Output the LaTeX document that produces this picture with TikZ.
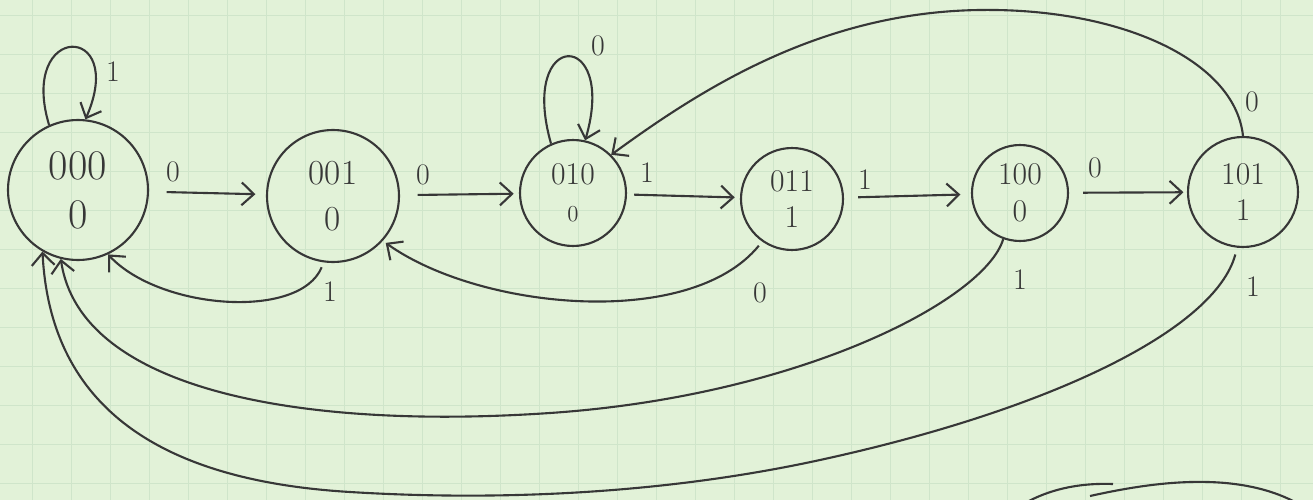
\documentclass[tikz,border=0pt]{standalone}
\usepackage{xcolor}
\usepackage{tikz}
\usetikzlibrary{arrows.meta}
\definecolor{paper}{RGB}{226,242,216}
\definecolor{gridc}{RGB}{207,229,202}
\definecolor{pen}{RGB}{55,55,55}

\begin{document}
\begin{tikzpicture}[x=0.02cm,y=-0.02cm,
  state/.style={circle,draw=pen,line width=1.2pt,align=center,inner sep=0pt,
    text=pen,font=\fontsize{18}{21}\selectfont},
  arr/.style={draw=pen,line width=1.2pt,-{Straight Barb[length=7pt,width=13pt]}},
  lbl/.style={text=pen,font=\fontsize{17}{19}\selectfont,inner sep=1pt}]
  \useasboundingbox (0,0) rectangle (1313,500);
  \fill[paper] (0,0) rectangle (1313,500);
  \foreach \gx in {-7,32,...,1313} \draw[gridc,line width=0.5pt] (\gx,0) -- (\gx,500);
  \foreach \gy in {15,54,...,500} \draw[gridc,line width=0.5pt] (0,\gy) -- (1313,\gy);
  % states
  \node[state,minimum size=2.8cm,font=\fontsize{24}{28}\selectfont] (s000) at (78,190) {000\\0};
  \node[state,minimum size=2.64cm,font=\fontsize{20}{26}\selectfont] (s001) at (333,196) {001\\0};
  \node[state,minimum size=2.12cm] (s010) at (573,193) {010\\{\fontsize{13}{15}\selectfont 0}};
  \node[state,minimum size=2.04cm] (s011) at (792,199) {011\\1};
  \node[state,minimum size=1.92cm] (s100) at (1020,193) {100\\0};
  \node[state,minimum size=2.2cm] (s101) at (1243,192) {101\\1};
  % forward edges
  \draw[arr,shorten <=10pt,shorten >=6pt] (s000) -- (s001);
  \draw[arr,shorten <=10pt,shorten >=3pt] (s001) -- (s010);
  \draw[arr,shorten <=4pt,shorten >=3pt] (s010) -- (s011);
  \draw[arr,shorten <=8pt,shorten >=6pt] (s011) -- (s100);
  \draw[arr,shorten <=8pt,shorten >=2pt] (s100) -- (s101);
  \node[lbl] (l01) at (173,172) {0};
  \node[lbl] (l12) at (423,175) {0};
  \node[lbl] (l23) at (647,173) {1};
  \node[lbl] (l34) at (865,180) {1};
  \node[lbl] (l45) at (1095,168) {0};
  % self loops
  \draw[arr] (s000.114) .. controls (18,22) and (128,22) .. (s000.84);
  \node[lbl] (l00) at (113,72) {1};
  \draw[arr] (s010.114) .. controls (518,28) and (618,28) .. (s010.77);
  \node[lbl] (l22) at (598,46) {0};
  % back edges
  \draw[arr] (s101.north) .. controls (1235,60) and (1120,8) .. (980,10)
    .. controls (820,12) and (700,90) .. (s010.45);
  \node[lbl] (l52) at (1252,102) {0};
  \draw[arr,shorten <=3pt] (s001.262) .. controls (300,320) and (160,310) .. (s000.295);
  \node[lbl] (l10) at (330,292) {1};
  \draw[arr,shorten <=3pt,shorten >=2pt] (s011.235) .. controls (690,330) and (480,310) .. (s001.318);
  \node[lbl] (l31) at (760,293) {0};
  \draw[arr] (s100.250) .. controls (985,300) and (800,396) .. (550,413)
    .. controls (300,430) and (80,390) .. (s000.256);
  \node[lbl] (l40) at (1020,280) {1};
  \draw[arr,shorten <=4pt] (s101.264) .. controls (1215,330) and (1050,410) .. (820,460)
    .. controls (650,497) and (480,500) .. (350,492)
    .. controls (150,480) and (50,400) .. (s000.240);
  \node[lbl] (l50) at (1253,287) {1};
  % stray stroke at the bottom edge
  \draw[pen,line width=1.2pt] (1027,502) .. controls (1055,487) and (1085,483) .. (1113,484);
  \draw[pen,line width=1.2pt] (1090,496) .. controls (1140,485) and (1230,468) .. (1295,502);
\end{tikzpicture}
\end{document}
